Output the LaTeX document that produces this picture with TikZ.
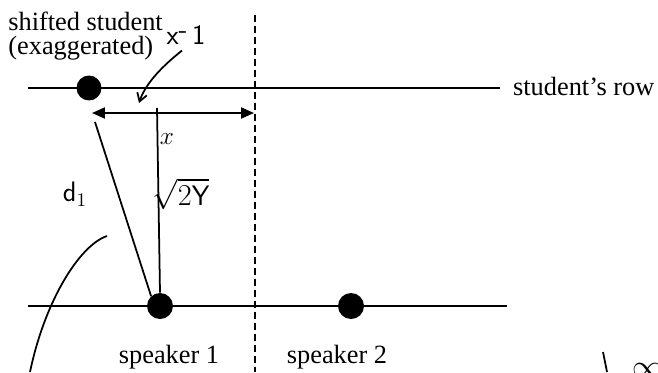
\documentclass[tikz,border=0pt]{standalone}
\usepackage{amsmath,amssymb}
\usepackage{fontspec}
\setmainfont{Liberation Serif}
\usepackage{tikz}
\usetikzlibrary{
  arrows.meta,
  positioning
}
\tikzset{
  dot/.style={circle, fill=black, inner sep=0pt, minimum size=0.5cm},
  rowline/.style={line width=1.1pt},
  penline/.style={line width=1pt},
  lbl/.style={font=\fontsize{15}{17}\selectfont, inner sep=1pt},
  penlbl/.style={font=\fontsize{16}{16}\sffamily, inner sep=1pt}
}

\begin{document}
\begin{tikzpicture}[x=0.02cm, y=-0.02cm]
  \useasboundingbox (0,0) rectangle (658,372);
  % ---------- student's row ----------
  \coordinate (rA) at (28,88);
  \node[lbl, anchor=base west] (rowlbl) at (511,95) {student’s row};
  \draw[rowline] (rA) -- ([xshift=-0.22cm]rowlbl.west |- rA);
  \node[dot] (S) at (89,88) {};
  \node[lbl, inner sep=0pt, anchor=base west] (shiftlbl) at (8,31) {shifted student};
  \node[lbl, inner sep=0pt, anchor=base west] (exaglbl) at (8,54) {(exaggerated)};
  % ---------- speaker row ----------
  \coordinate (rB1) at (28,306);
  \coordinate (rB2) at (507,306);
  \draw[rowline] (rB1) -- (rB2);
  \node[dot, minimum size=0.52cm] (P1) at (160,306) {};
  \node[dot, minimum size=0.52cm] (P2) at (351,306) {};
  \node[lbl, anchor=base] (P1lbl) at (169,363) {speaker 1};
  \node[lbl, anchor=base] (P2lbl) at (337,363) {speaker 2};
  % ---------- midline ----------
  \coordinate (mtop) at (255,15);
  \coordinate (mbot) at (255,372);
  \draw[line width=1.1pt, dash pattern=on 0.14cm off 0.08cm] (mtop) -- (mbot);
  % ---------- distances ----------
  \coordinate (xL) at (92,113);
  \coordinate (xR) at (254,113);
  \draw[line width=1.1pt, {Triangle[length=0.26cm, width=0.22cm]}-{Triangle[length=0.26cm, width=0.22cm]}] (xL) -- (xR);
  \node[lbl] (xlbl) at (167,139) {$x$};
  \coordinate (ytop) at (157,108);
  \draw[penline] (ytop) -- (P1.north);
  \coordinate (dtop) at (95,122);
  \draw[penline] (dtop) -- (P1.132);
  \node[penlbl] (ylbl) at (181,194) {$\sqrt{2\mathsf{Y}}$};
  \node[penlbl] (dlbl) at (75,194) {$\mathsf{d}_1$};
  % ---------- handwritten notes ----------
  \node[penlbl] (xmlbl) at (186,35) {x\raisebox{0.5ex}{-}\,1};
  \coordinate (xmtip) at (139,103);
  \draw[penline, -{Straight Barb[length=0.16cm, width=0.2cm]}] (xmlbl.south) ++(-4,4)
    .. controls (165,64) and (146,82) .. (xmtip);
  \coordinate (cA) at (107,236);
  \coordinate (cB) at (30,372);
  \draw[penline] (cA) .. controls (80,245) and (45,300) .. (cB);
  \coordinate (tA) at (603,352);
  \coordinate (tB) at (607,372);
  \draw[penline] (tA) -- (tB);
  \node[penlbl, anchor=west] (inflbl) at (630,366) {$\infty'$};
\end{tikzpicture}
\end{document}
